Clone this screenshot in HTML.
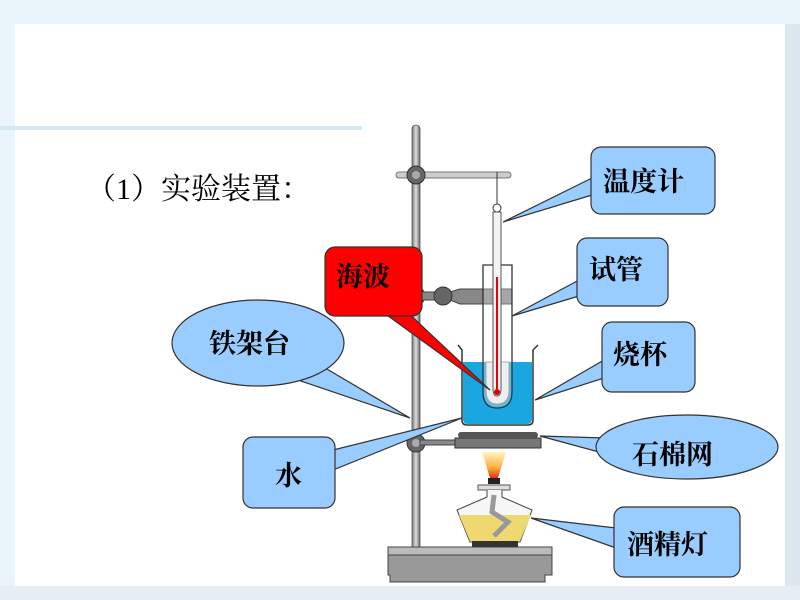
<!DOCTYPE html>
<html><head><meta charset="utf-8"><style>
html,body{margin:0;padding:0;background:#fff}
svg{display:block}
text{font-family:"Liberation Serif","Noto Serif CJK SC",serif;font-weight:700;fill:#000}
</style></head><body>
<svg width="800" height="600" viewBox="0 0 800 600" xmlns="http://www.w3.org/2000/svg">
<defs>
<linearGradient id="fl" x1="0" y1="0" x2="0" y2="1"><stop offset="0" stop-color="#fff6c0"/><stop offset="0.6" stop-color="#ffb040"/><stop offset="1" stop-color="#e03010"/></linearGradient>
<linearGradient id="rod" x1="0" x2="1"><stop offset="0" stop-color="#777"/><stop offset="0.5" stop-color="#ddd"/><stop offset="1" stop-color="#666"/></linearGradient>
</defs>
<rect width="800" height="600" fill="#eaf4fb"/>
<rect x="15" y="24" width="770" height="562" fill="#fff"/>
<rect x="0" y="126" width="362" height="4" fill="#d6e8f4"/>
<rect x="785" y="24" width="15" height="576" fill="#dde8ee"/>
<rect x="0" y="586" width="800" height="14" fill="#e6eef3"/>

<text x="86" y="199" font-size="30" style="font-weight:400">（1）实验装置：</text>

<!-- stand -->
<rect x="412" y="125" width="8" height="425" rx="4" fill="url(#rod)" stroke="#555" stroke-width="0.8"/>
<path d="M388 550 H552 V575 H545 V582 H390 V575 H388 Z" fill="#999" stroke="#444"/>
<rect x="388" y="547" width="164" height="8" fill="#bbb" stroke="#444"/>
<rect x="396" y="172" width="115" height="6" rx="3" fill="#ccc" stroke="#777"/>
<circle cx="416" cy="175" r="9" fill="#666" stroke="#333"/><circle cx="416" cy="175" r="4" fill="#aaa"/>
<circle cx="416" cy="296" r="9" fill="#666" stroke="#333"/>
<path d="M420 292 H450 L460 289 H512 V304 H460 L450 300 H420 Z" fill="#888" stroke="#444"/>
<circle cx="443" cy="296" r="9" fill="#666" stroke="#333"/>
<circle cx="416" cy="443" r="9" fill="#666" stroke="#333"/><circle cx="416" cy="443" r="4" fill="#aaa"/>
<rect x="420" y="440" width="40" height="5" fill="#888" stroke="#444"/>
<!-- gauze -->
<rect x="455" y="438" width="86" height="10" fill="#777" stroke="#333"/>
<rect x="458" y="432" width="80" height="6" rx="3" fill="#555"/>
<!-- beaker -->
<path d="M458 345 L462 350 V420 Q462 425 467 425 H528 Q533 425 533 420 V350 L538 345" fill="none" stroke="#333" stroke-width="1.5"/>
<path d="M463 362 H532 V419 Q532 424 527 424 H468 Q463 424 463 419 Z" fill="#1aa6e0"/>
<!-- test tube -->
<path d="M483 265 H512 V392 Q512 408 497 408 Q483 408 483 392 Z" fill="rgba(255,255,255,0.25)" stroke="#333" stroke-width="1.3"/>
<path d="M486 362 H509 V390 Q509 404 497 404 Q486 404 486 390 Z" fill="#eee" stroke="#aaa"/>
<!-- thermometer -->
<line x1="497" y1="172" x2="497" y2="204" stroke="#333"/>
<circle cx="497" cy="208" r="4" fill="none" stroke="#333"/>
<path d="M493 212 H501 V388 Q501 396 497 396 Q493 396 493 388 Z" fill="#f4f4f4" stroke="#555"/>
<rect x="496" y="277" width="2" height="112" fill="#e00"/>
<circle cx="497" cy="392" r="3" fill="#d00"/>
<!-- flame & lamp -->
<path d="M482 452 H506 L498 478 H490 Z" fill="url(#fl)"/>
<rect x="488" y="478" width="12" height="6" fill="#222"/>
<rect x="478" y="485" width="32" height="5" fill="#ddd" stroke="#555"/>
<path d="M487 490 V497 L457 510 L470 542 H520 L532 510 L502 497 V490" fill="#f6f6f6" stroke="#444"/>
<path d="M459 515 L531 515 L520 541 H470 Z" fill="#f0d870"/>
<path d="M494 495 L492 512 L508 522 L494 536" fill="none" stroke="#999" stroke-width="5"/>
<rect x="472" y="541" width="46" height="6" fill="#333"/>

<g fill="#99ccff" stroke="#333" stroke-width="1.2">
<polygon points="592,178 503,222 592,195"/>
<rect x="591" y="147" width="124" height="67" rx="10"/>
<polygon points="579,280 512,316 579,296"/>
<rect x="577" y="238" width="91" height="68" rx="10"/>
<polygon points="604,360 535,400 604,378"/>
<rect x="602" y="322" width="93" height="70" rx="10"/>
<polygon points="605,438 540,436 610,455"/>
<ellipse cx="687" cy="447" rx="91" ry="32"/>
<polygon points="616,528 531,518 616,548"/>
<rect x="614" y="507" width="126" height="70" rx="10"/>
<polygon points="315,362 410,418 292,378"/>
<ellipse cx="258" cy="343" rx="86" ry="43"/>
<polygon points="333,450 462,418 333,470"/>
<rect x="243" y="437" width="92" height="71" rx="10"/>
</g>
<g fill="#ff0000" stroke="#333" stroke-width="1.2">
<polygon points="380,310 490,390 405,310"/>
<rect x="325" y="247" width="97" height="69" rx="10"/>
</g>
<g stroke="none">
<rect x="593" y="160" width="120" height="50" rx="8" fill="#99ccff"/>
<rect x="579" y="250" width="87" height="50" rx="8" fill="#99ccff"/>
<rect x="604" y="335" width="89" height="50" rx="8" fill="#99ccff"/>
<ellipse cx="690" cy="448" rx="85" ry="28" fill="#99ccff"/>
<rect x="616" y="515" width="122" height="58" rx="8" fill="#99ccff"/>
<ellipse cx="258" cy="343" rx="82" ry="39" fill="#99ccff"/>
<rect x="245" y="445" width="88" height="58" rx="8" fill="#99ccff"/>
<rect x="327" y="250" width="93" height="56" rx="8" fill="#ff0000"/>
</g>
<g font-size="27">
<text x="603" y="191">温度计</text>
<text x="589" y="279">试管</text>
<text x="613" y="364">烧杯</text>
<text x="632" y="464">石棉网</text>
<text x="627" y="554">酒精灯</text>
<text x="209" y="353">铁架台</text>
<text x="275" y="485">水</text>
<text x="336" y="286">海波</text>
</g>
</svg>
</body></html>
